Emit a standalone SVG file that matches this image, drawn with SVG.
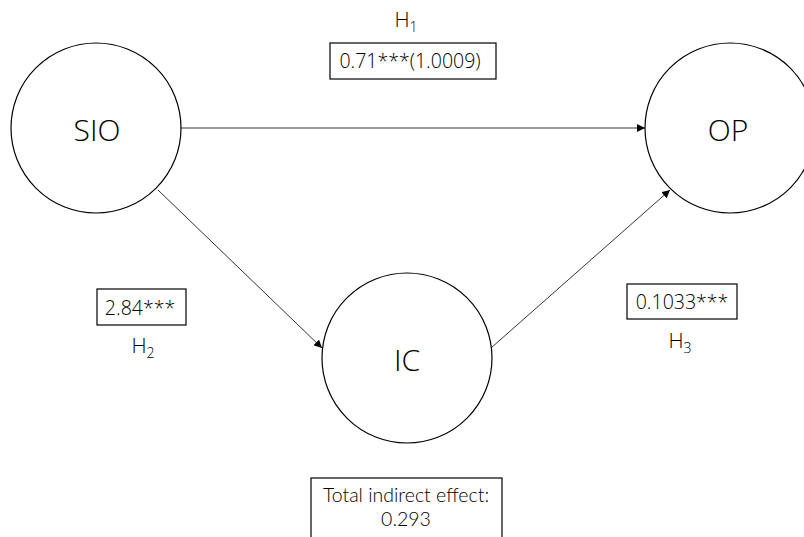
<svg xmlns="http://www.w3.org/2000/svg" width="804" height="537" viewBox="0 0 804 537">
<defs>
<style>
text{font-family:"Open Sans","Liberation Sans",sans-serif;font-weight:300;fill:#000}
.node{fill:#fff;stroke:#000;stroke-width:1.2}
.box{fill:#fff;stroke:#000;stroke-width:1.2}
.big{font-size:30px;text-anchor:middle}
.lbl{font-size:19.5px;text-anchor:middle}
.tot{font-family:Lato,"Open Sans",sans-serif}
.h{font-size:21px;text-anchor:middle}
.sub{font-size:14px}
.conn{stroke:#000;stroke-width:0.8;fill:none;marker-end:url(#arr)}
</style>
<marker id="arr" viewBox="0 0 10 10" refX="10" refY="5" markerWidth="8" markerHeight="8" markerUnits="userSpaceOnUse" orient="auto">
<path d="M0,0 L10,5 L0,10 z" fill="#000"/>
</marker>
</defs>
<rect width="804" height="537" fill="#fff"/>
<g id="connectors">
<line class="conn" x1="181" y1="128" x2="645" y2="128"/>
<line class="conn" x1="158" y1="190" x2="322" y2="348"/>
<line class="conn" x1="491" y1="348" x2="670" y2="190"/>
</g>
<g id="SIO">
<circle class="node" cx="96" cy="128" r="85"/>
<text class="big" x="97" y="141">SIO</text>
</g>
<g id="OP">
<circle class="node" cx="730" cy="128" r="85"/>
<text class="big" x="728" y="141">OP</text>
</g>
<g id="IC">
<circle class="node" cx="407" cy="358" r="85"/>
<text class="big" x="407" y="371">IC</text>
</g>
<g id="H1">
<text class="h" x="406" y="27">H<tspan class="sub" dy="5">1</tspan></text>
<rect class="box" x="330" y="43" width="166" height="36"/>
<text class="lbl" x="410" y="68">0.71***(1.0009)</text>
</g>
<g id="H2">
<rect class="box" x="97" y="289" width="89" height="36"/>
<text class="lbl" x="140" y="315">2.84***</text>
<text class="h" x="143" y="353">H<tspan class="sub" dy="5">2</tspan></text>
</g>
<g id="H3">
<rect class="box" x="627" y="284" width="110" height="35"/>
<text class="lbl" x="682" y="309">0.1033***</text>
<text class="h" x="680" y="348">H<tspan class="sub" dy="5">3</tspan></text>
</g>
<g id="total">
<rect class="box" x="311" y="478" width="191" height="70"/>
<text class="lbl tot" x="406" y="502">Total indirect effect:</text>
<text class="lbl tot" x="406" y="526">0.293</text>
</g>
</svg>
